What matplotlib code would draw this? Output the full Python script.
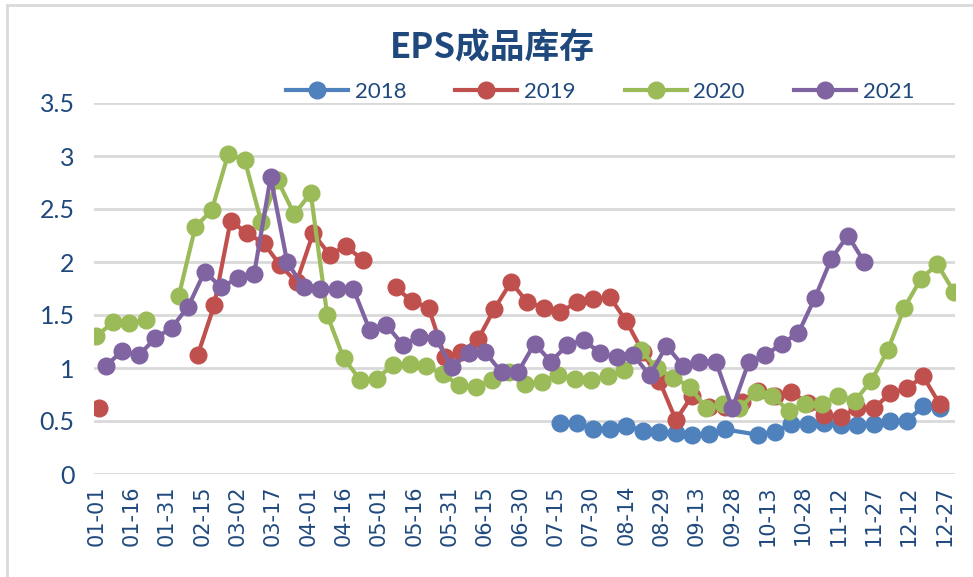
import numpy as np
import pandas as pd
import matplotlib
matplotlib.use('Agg')
import matplotlib.pyplot as plt
import matplotlib.dates as mdates
from matplotlib.patches import Rectangle

plt.rcParams['font.family'] = ['Lato', 'DejaVu Sans']

# 공용 x축(월-일)에 올리기 위한 더미 연도
YEAR = 2021
nan = np.nan

series_names = ['2018', '2019', '2020', '2021']
series_colors = ['#4F81BD', '#C0504D', '#9BBB59', '#8064A2']

# 2018: 07-17 부터 주간, 한 주(인덱스 11)는 날짜 자체가 없음 -> 선이 이어짐
start_2018 = '07-17'
weeks_2018 = [0, 1, 2, 3, 4, 5, 6, 7, 8, 9, 10,
              12, 13, 14, 15, 16, 17, 18, 19, 20, 21, 22, 23]
vals_2018 = [0.48, 0.48, 0.42, 0.42, 0.45, 0.41, 0.40, 0.39, 0.37, 0.38, 0.42,
             0.37, 0.40, 0.47, 0.47, 0.48, 0.46, 0.46, 0.47, 0.50, 0.50, 0.64, 0.62]

# 2019: 주간, nan = 빈 칸(선 끊김)
start_2019 = '01-02'
vals_2019 = [0.62, nan, nan, nan, nan, nan, 1.12, 1.59, 2.39, 2.27,
             2.18, 1.97, 1.81, 2.27, 2.07, 2.15, 2.02, nan, 1.76, 1.63,
             1.57, 1.10, 1.15, 1.27, 1.56, 1.81, 1.62, 1.57, 1.53, 1.62,
             1.65, 1.67, 1.44, 1.15, 0.88, 0.51, 0.74, 0.63, 0.63, 0.68,
             0.78, 0.74, 0.77, 0.67, 0.56, 0.54, 0.62, 0.62, 0.76, 0.81,
             0.92, 0.66]

start_2020 = '01-01'
vals_2020 = [1.30, 1.43, 1.42, 1.45, nan, 1.68, 2.33, 2.49, 3.02, 2.96,
             2.38, 2.77, 2.45, 2.65, 1.50, 1.09, 0.89, 0.90, 1.03, 1.04,
             1.02, 0.94, 0.84, 0.82, 0.89, 0.96, 0.85, 0.87, 0.93, 0.90,
             0.89, 0.92, 0.98, 1.17, 1.00, 0.91, 0.82, 0.62, 0.66, 0.62,
             0.77, 0.74, 0.59, 0.66, 0.66, 0.74, 0.69, 0.88, 1.17, 1.57,
             1.84, 1.98, 1.72]

start_2021 = '01-05'
vals_2021 = [1.02, 1.16, 1.12, 1.28, 1.38, 1.58, 1.91, 1.76, 1.85, 1.89,
             2.80, 2.00, 1.76, 1.75, 1.75, 1.75, 1.36, 1.41, 1.22, 1.29,
             1.28, 1.01, 1.14, 1.15, 0.96, 0.96, 1.23, 1.06, 1.22, 1.26,
             1.14, 1.10, 1.12, 0.93, 1.21, 1.02, 1.06, 1.06, 0.62, 1.06,
             1.12, 1.23, 1.33, 1.66, 2.03, 2.25, 2.00]

tick_labels = ['01-01', '01-16', '01-31', '02-15', '03-02', '03-17', '04-01',
               '04-16', '05-01', '05-16', '05-31', '06-15', '06-30', '07-15',
               '07-30', '08-14', '08-29', '09-13', '09-28', '10-13', '10-28',
               '11-12', '11-27', '12-12', '12-27']


def weekly_dates(start, weeks):
    base = pd.Timestamp(f'{YEAR}-{start}')
    return base + pd.to_timedelta(7 * np.asarray(weeks), unit='D')


series = [
    (weekly_dates(start_2018, weeks_2018), vals_2018),
    (weekly_dates(start_2019, range(len(vals_2019))), vals_2019),
    (weekly_dates(start_2020, range(len(vals_2020))), vals_2020),
    (weekly_dates(start_2021, range(len(vals_2021))), vals_2021),
]

TXT = '#1F497D'
GRID = '#D9D9D9'

fig = plt.figure(figsize=(9.73, 5.77), dpi=100)
fig.patch.set_facecolor('white')

# 차트 영역 테두리
fig.patches.append(Rectangle((7 / 973, -0.05), 1.2, (577 - 5) / 577 + 0.05,
                             transform=fig.transFigure, fill=False,
                             edgecolor=GRID, lw=2))

ax = fig.add_axes([94 / 973, 1 - 474 / 577, (955 - 94) / 973, (474 - 103) / 577])

handles = []
for (dates, vals), name, color in zip(series, series_names, series_colors):
    ln, = ax.plot(mdates.date2num(dates), vals, color=color, lw=3,
                  marker='o', markersize=12, markeredgecolor=color,
                  markerfacecolor=color, label=name, zorder=3)
    handles.append(ln)

ax.set_ylim(0, 3.5)
ax.set_yticks(np.arange(0, 3.51, 0.5))
ax.set_yticklabels([f'{v:g}' for v in np.arange(0, 3.51, 0.5)])

jan1 = mdates.date2num(pd.Timestamp(f'{YEAR}-01-01'))
ax.set_xlim(jan1 - 1, jan1 + 364.5)
tick_pos = mdates.date2num(pd.to_datetime([f'{YEAR}-{t}' for t in tick_labels]))
ax.set_xticks(tick_pos)
ax.set_xticklabels(tick_labels, rotation=90, family='DejaVu Sans', fontsize=15)

ax.grid(axis='y', color=GRID, lw=2)
ax.set_axisbelow(True)
for s in ax.spines.values():
    s.set_visible(False)
ax.tick_params(axis='both', length=0, colors=TXT)
ax.tick_params(axis='y', labelsize=18, pad=14)
ax.tick_params(axis='x', pad=8)

fig.text(0.506, 1 - 48 / 577, 'EPS成品库存', ha='center', va='center',
         fontsize=25, fontweight='bold', color=TXT,
         family=['Noto Sans CJK SC', 'DejaVu Sans'])

fig.legend(handles=handles, loc='center', bbox_to_anchor=(600 / 973, 1 - 92 / 577),
           ncol=4, frameon=False, fontsize=16, handlelength=2.8,
           handletextpad=0.3, columnspacing=2.2, labelcolor=TXT)

plt.savefig('out.png', dpi=100)
